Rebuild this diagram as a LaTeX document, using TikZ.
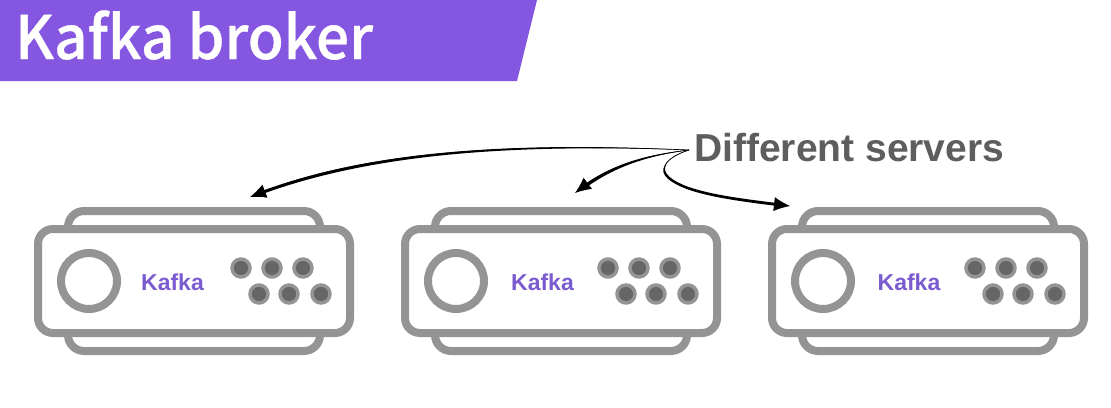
\documentclass[tikz,border=0pt]{standalone}
\usepackage{fontspec}
\setmainfont{Liberation Sans}
\newfontfamily\titlefont[FakeBold=0.6,FakeStretch=0.975]{Noto Sans CJK KR Medium}
\usetikzlibrary{arrows.meta}
\definecolor{banner}{HTML}{8557E0}
\definecolor{kafkatext}{HTML}{7A5BD0}
\definecolor{frame}{HTML}{949494}
\definecolor{dotin}{HTML}{666666}
\definecolor{caption}{HTML}{5E5E5E}
\tikzset{
  frameline/.style={draw=frame,line width=8pt},
  portdot/.style={circle,draw=frame,fill=dotin,line width=3.5pt,minimum size=18pt,inner sep=0pt},
  dialring/.style={circle,draw=frame,line width=8pt,fill=white,minimum size=56pt,inner sep=0pt},
  kafkalabel/.style={text=kafkatext,font=\bfseries\fontsize{23}{25}\selectfont,inner sep=0pt},
  conn/.style={draw=black,line width=.7pt,-{Latex[length=16pt,width=14pt]}},
  taper/.style={fill=black,draw=none},
}
\newcommand{\serverbox}[3]{%
  \begin{scope}[shift={(#1,0)}]
    \draw[frameline,rounded corners=16pt] (68,229) -- (68,211) -- (320,211) -- (320,229);
    \draw[frameline,rounded corners=16pt] (68,333) -- (68,351) -- (320,351) -- (320,333);
    \draw[frameline,fill=white,rounded corners=15pt] (38,229) rectangle (350,333);
    \node[dialring] (dial#2) at (89,281) {};
    \node[kafkalabel] (kafka#2) at (#3,282) {Kafka};
    \node[portdot] (p#2a) at (241,268) {};
    \node[portdot] (p#2b) at (272,268) {};
    \node[portdot] (p#2c) at (303,268) {};
    \node[portdot] (p#2d) at (259,294) {};
    \node[portdot] (p#2e) at (289,294) {};
    \node[portdot] (p#2f) at (321,294) {};
  \end{scope}}
\begin{document}
\begin{tikzpicture}[x=1pt,y=-1pt]
\useasboundingbox (0,0) rectangle (1111,407);
\fill[white] (0,0) rectangle (1111,407);
\fill[banner] (0,0) -- (537,0) -- (517,81) -- (0,81) -- cycle;
\node[anchor=base west,inner sep=0pt,text=white,font=\titlefont\fontsize{60}{64}\selectfont] (title) at (15,59) {Kafka broker};
\serverbox{0}{A}{172.5}
\serverbox{367}{B}{175.5}
\serverbox{734}{C}{175}
\node[anchor=base west,inner sep=0pt,text=caption,font=\bfseries\fontsize{39}{42}\selectfont] (caption) at (694,161) {Different servers};
\coordinate (src) at (689,150);
\coordinate (tipA) at (250,197);
\coordinate (tipB) at (575,193);
\coordinate (tipC) at (790,206);
% tapered bodies
\fill[taper] (src) .. controls (528.45,142.3) and (384.6,147.9) .. (267.8,188.8) -- (262.8,190.7) -- (263.7,193.6) -- (268.7,191.7) .. controls (385.5,150.8) and (528.45,144.4) .. (src) -- cycle;
\fill[taper] (src) .. controls (647.35,154.2) and (617.4,163.3) .. (589,181.3) -- (584.9,184.15) -- (586.9,187.05) -- (591,184) .. controls (618.6,165.8) and (647.35,156) .. (src) -- cycle;
\fill[taper] (src) .. controls (664.5,157.4) and (660,169.2) .. (669.7,177) .. controls (686.7,191.5) and (730.5,197.5) .. (782,203.6) -- (781.6,206.5) .. controls (730.1,200.3) and (685.5,193.9) .. (668.2,179) .. controls (657.8,170.8) and (663.5,158.6) .. (src) -- cycle;
% connectors with their tips
\draw[conn] (src) .. controls (520,143) and (370,150) .. (tipA);
\draw[conn] (src) .. controls (640,156) and (608,168) .. (tipB);
\draw[conn] (src) .. controls (664,158) and (659,170) .. (669,178) .. controls (687,193.5) and (735,199.5) .. (tipC);
\end{tikzpicture}
\end{document}
